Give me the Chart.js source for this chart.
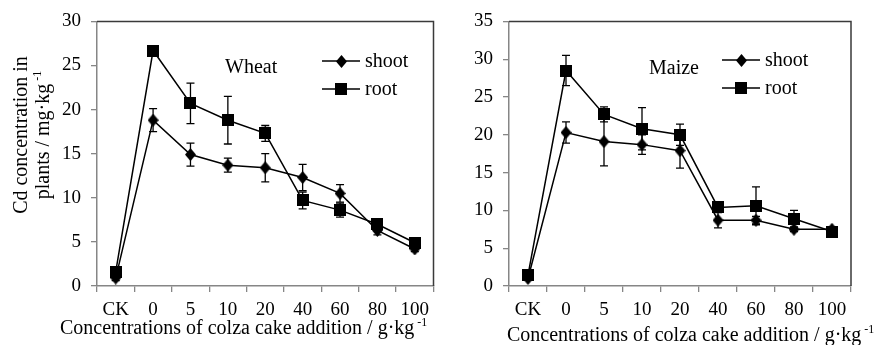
<!DOCTYPE html>
<html>
<head>
<meta charset="utf-8">
<script src="https://cdn.jsdelivr.net/npm/chart.js@4"></script>
<style>
html, body { margin: 0; padding: 0; background: #fff; }
#wrap { position: relative; width: 883px; height: 345px; }
.box { position: absolute; top: 0; height: 345px; }
</style>
</head>
<body>
<div id="wrap">
  <div class="box" style="left:0;width:441px"><canvas id="wheat"></canvas></div>
  <div class="box" style="left:441px;width:442px"><canvas id="maize"></canvas></div>
</div>
<script>
const categories = ['CK', '0', '5', '10', '20', '40', '60', '80', '100'];

const wheatShoot    = [0.9, 18.8, 14.9, 13.7, 13.4, 12.3, 10.5, 6.3, 4.2];
const wheatShootErr = [0.3, 1.3, 1.3, 0.8, 1.6, 1.5, 1.0, 0.5, 0.3];
const wheatRoot     = [1.6, 26.7, 20.7, 18.8, 17.3, 9.7, 8.6, 7.0, 4.9];
const wheatRootErr  = [0.3, 0.3, 2.3, 2.7, 0.9, 0.95, 0.8, 0.4, 0.3];

const maizeShoot    = [1.0, 20.3, 19.1, 18.7, 17.9, 8.7, 8.7, 7.5, 7.5];
const maizeShootErr = [0.2, 1.4, 3.2, 1.3, 2.3, 1.0, 0.5, 0.3, 0.3];
const maizeRoot     = [1.45, 28.5, 22.7, 20.8, 20.0, 10.4, 10.6, 8.9, 7.2];
const maizeRootErr  = [0.3, 2.0, 1.0, 2.8, 1.4, 0.4, 2.5, 1.1, 0.5];

Chart.defaults.font.family = '"Liberation Serif", "Times New Roman", serif';
Chart.defaults.color = '#000';

const SERIF = '"Liberation Serif", "Times New Roman", serif';

// marker images, shared by the datasets and the little legend
function makeMarker(kind) {
    let c = document.createElement('canvas');
    let g;
    if (kind == 'diamond') {
        c.width = 11; c.height = 13;
        g = c.getContext('2d');
        g.fillStyle = '#000';
        g.beginPath();
        g.moveTo(5.5, 0); g.lineTo(11, 6.5); g.lineTo(5.5, 13); g.lineTo(0, 6.5);
        g.closePath();
        g.fill();
    } else {
        c.width = 12; c.height = 12;
        g = c.getContext('2d');
        g.fillStyle = '#000';
        g.fillRect(0, 0, 12, 12);
    }
    return c;
}
const DIAMOND = makeMarker('diamond');
const SQUARE = makeMarker('square');

// text with a raised "-1" at the end
function richWidth(ctx, main, sup, size) {
    ctx.font = size + 'px ' + SERIF;
    let w = ctx.measureText(main).width;
    ctx.font = Math.round(size * 0.6) + 'px ' + SERIF;
    return w + 3 + ctx.measureText(sup).width;
}
function drawRich(ctx, main, sup, x, y, size) {
    ctx.font = size + 'px ' + SERIF;
    ctx.fillText(main, x, y);
    let w = ctx.measureText(main).width;
    ctx.font = Math.round(size * 0.6) + 'px ' + SERIF;
    ctx.fillText(sup, x + w + 3, y - size * 0.42);
}

const errorBars = {
    id: 'errorBars',
    beforeDatasetsDraw(chart) {
        const ctx = chart.ctx;
        const y = chart.scales.y;
        ctx.save();
        ctx.strokeStyle = '#000';
        ctx.lineWidth = 1.3;
        chart.data.datasets.forEach((ds, i) => {
            if (!ds.errors) return;
            chart.getDatasetMeta(i).data.forEach((pt, j) => {
                let e = ds.errors[j];
                if (!e) return;
                let top = y.getPixelForValue(ds.data[j] + e);
                let bot = y.getPixelForValue(ds.data[j] - e);
                ctx.beginPath();
                ctx.moveTo(pt.x, top); ctx.lineTo(pt.x, bot);
                ctx.moveTo(pt.x - 4, top); ctx.lineTo(pt.x + 4, top);
                ctx.moveTo(pt.x - 4, bot); ctx.lineTo(pt.x + 4, bot);
                ctx.stroke();
            });
        });
        ctx.restore();
    }
};

const decor = {
    id: 'decor',
    afterDraw(chart, args, o) {
        const ctx = chart.ctx;
        const a = chart.chartArea;
        ctx.save();
        // top and right edge of the plot box
        ctx.strokeStyle = '#3a3a3a';
        ctx.lineWidth = 1.5;
        ctx.beginPath();
        ctx.moveTo(a.left, a.top);
        ctx.lineTo(a.right, a.top);
        ctx.lineTo(a.right, a.bottom);
        ctx.stroke();

        ctx.fillStyle = '#000';
        ctx.strokeStyle = '#000';
        // plant name
        ctx.font = '20px ' + SERIF;
        ctx.textAlign = 'left';
        ctx.textBaseline = 'alphabetic';
        ctx.fillText(o.name, o.nameX, o.nameY);

        // legend: line with marker, then label
        const items = [['shoot', DIAMOND], ['root', SQUARE]];
        items.forEach((it, k) => {
            let ly = o.legY + k * 28;
            ctx.lineWidth = 1.5;
            ctx.beginPath();
            ctx.moveTo(o.legX, ly);
            ctx.lineTo(o.legX + 38, ly);
            ctx.stroke();
            let img = it[1];
            ctx.drawImage(img, Math.round(o.legX + 19 - img.width / 2), Math.round(ly - img.height / 2));
            ctx.font = '20px ' + SERIF;
            ctx.fillText(it[0], o.legX + 43, ly + 6);
        });

        // x axis title
        ctx.textAlign = 'left';
        drawRich(ctx, 'Concentrations of colza cake addition / g\u00b7kg', '-1', o.xTitleX, o.xTitleY, 20);

        // y axis title, two lines, rotated
        if (o.yTitle) {
            ctx.save();
            ctx.translate(27, o.yTitleCY);
            ctx.rotate(-Math.PI / 2);
            ctx.textAlign = 'center';
            ctx.font = '20px ' + SERIF;
            ctx.fillText('Cd concentration in', 0, 0);
            ctx.textAlign = 'left';
            let w = richWidth(ctx, 'plants / mg\u00b7kg', '-1', 20);
            drawRich(ctx, 'plants / mg\u00b7kg', '-1', -w / 2, 22, 20);
            ctx.restore();
        }
        ctx.restore();
    }
};

function make_chart(id, shoot, shootErr, root, rootErr, yMax, yWidth, padRight, deco) {
    const ctx = document.getElementById(id).getContext('2d');
    return new Chart(ctx, {
        type: 'line',
        data: {
            labels: categories,
            datasets: [
                {
                    label: 'shoot', data: shoot, errors: shootErr,
                    borderColor: '#000', borderWidth: 1.5,
                    pointStyle: DIAMOND, pointRadius: 6,
                    tension: 0
                },
                {
                    label: 'root', data: root, errors: rootErr,
                    borderColor: '#000', borderWidth: 1.5,
                    pointStyle: SQUARE, pointRadius: 6,
                    tension: 0
                }
            ]
        },
        options: {
            responsive: true,
            maintainAspectRatio: false,
            animation: false,
            events: [],
            layout: {padding: {top: 21, right: padRight, left: 0, bottom: 0}},
            plugins: {
                legend: {display: false},
                tooltip: {enabled: false},
                decor: deco
            },
            scales: {
                x: {
                    type: 'category',
                    offset: true,
                    grid: {offset: true, drawOnChartArea: false, tickLength: 6, color: '#868686', lineWidth: 1.3},
                    border: {color: '#868686', width: 1.5},
                    ticks: {font: {size: 19}, color: '#000', padding: 7, maxRotation: 0, autoSkip: false},
                    afterFit(s) { s.height = 59; }
                },
                y: {
                    min: 0, max: yMax,
                    grid: {drawOnChartArea: false, tickLength: 6, color: '#868686', lineWidth: 1.3},
                    border: {color: '#868686', width: 1.5},
                    ticks: {stepSize: 5, font: {size: 19}, color: '#000', padding: 10},
                    afterFit(s) { s.width = yWidth; }
                }
            }
        },
        plugins: [errorBars, decor]
    });
}

make_chart('wheat', wheatShoot, wheatShootErr, wheatRoot, wheatRootErr, 30, 97, 4, {
    name: 'Wheat', nameX: 225, nameY: 73,
    legX: 322, legY: 61,
    xTitleX: 60, xTitleY: 334,
    yTitle: true, yTitleCY: 135
});
make_chart('maize', maizeShoot, maizeShootErr, maizeRoot, maizeRootErr, 35, 68, 32, {
    name: 'Maize', nameX: 208, nameY: 74,
    legX: 281, legY: 60,
    xTitleX: 66, xTitleY: 341,
    yTitle: false
});
</script>
</body>
</html>
